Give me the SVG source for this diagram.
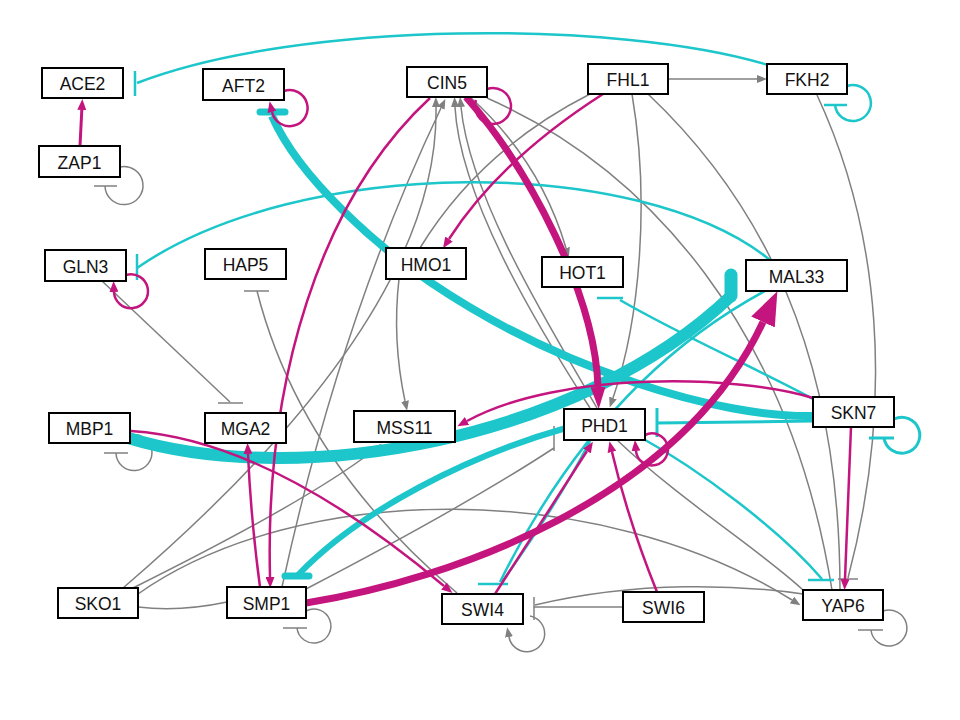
<svg xmlns="http://www.w3.org/2000/svg" width="960" height="720" viewBox="0 0 960 720">
<style>
rect{fill:#fff;stroke:#000;stroke-width:2}
text{font-family:"Liberation Sans",Arial,sans-serif;font-size:17.5px;fill:#111;text-anchor:middle}
.g{stroke:#808080;stroke-width:1.5;fill:none}
.m{stroke:#C4157F;stroke-width:2.5;fill:none}
.c{stroke:#1CC6CA;stroke-width:2.5;fill:none}
.tg{stroke:#808080;stroke-width:1.5}
.tc{stroke:#1CC6CA;stroke-width:2.5}
.rc{stroke:#1CC6CA;stroke-linecap:round}
</style>
<defs>
<marker id="aG" markerUnits="userSpaceOnUse" markerWidth="10" markerHeight="8" refX="0" refY="4" orient="auto"><path d="M0,0 L10,4 L0,8 z" fill="#808080"/></marker>
<marker id="aM" markerUnits="userSpaceOnUse" markerWidth="11" markerHeight="9" refX="0" refY="4.5" orient="auto"><path d="M0,0 L11,4.5 L0,9 z" fill="#C4157F"/></marker>
<marker id="aMt" markerUnits="userSpaceOnUse" markerWidth="22" markerHeight="15" refX="0" refY="7.5" orient="auto"><path d="M0,0 L22,7.5 L0,15 z" fill="#C4157F"/></marker>
<marker id="aMb" markerUnits="userSpaceOnUse" markerWidth="34" markerHeight="26" refX="0" refY="13" orient="auto"><path d="M0,0 L34,13 L0,26 z" fill="#C4157F"/></marker>
</defs>
<rect x="0" y="0" width="960" height="720" style="fill:#fff;stroke:none"/>
<g id="connectors">
<!-- gray -->
<path class="g" d="M668,79 L757,79" marker-end="url(#aG)"/>
<path class="g" d="M632,94 C650,200 640,320 613,398" marker-end="url(#aG)"/>
<path class="g" d="M590,94 Q480,150 420,248"/>
<path class="g" d="M648,94 C760,200 840,350 840,590"/>
<path class="g" d="M470,97 Q540,160 566,248" marker-end="url(#aG)"/>
<path class="g" d="M487,98 C650,170 790,330 832,590"/>
<path class="g" d="M590,408 C540,330 460,200 455,107" marker-end="url(#aG)"/>
<path class="g" d="M597,408 C552,330 470,200 461,107" marker-end="url(#aG)"/>
<path class="g" d="M123,588 Q440,316 436,107" marker-end="url(#aG)"/>
<path class="g" d="M282,587 Q340,320 441,108" marker-end="url(#aG)"/>
<path class="g" d="M399,279 Q392,340 405,401" marker-end="url(#aG)"/>
<path class="g" d="M133,588 Q310,500 374,450" marker-end="url(#aG)"/>
<path class="g" d="M138,607 Q180,612 227,602"/>
<path class="g" d="M138,594 C300,480 600,480 792,600" marker-end="url(#aG)"/>
<path class="g" d="M306,589 C400,540 490,490 554,448"/>
<line class="tg" x1="554" y1="426" x2="554" y2="451"/>
<path class="g" d="M102,281 L230,402"/>
<line class="tg" x1="218" y1="403" x2="243" y2="403"/>
<path class="g" d="M457,593 Q300,460 257,291"/>
<line class="tg" x1="244" y1="291" x2="269" y2="291"/>
<path class="g" d="M623,607 L534,607"/>
<path class="g" d="M803,594 C740,585 640,580 535,605"/>
<line class="tg" x1="534" y1="597" x2="534" y2="620"/>
<path class="g" d="M817,95 C880,230 895,400 848,578"/>
<line class="tg" x1="838" y1="579" x2="858" y2="579"/>
<path class="g" d="M617,440 C680,500 760,550 803,590"/>
<path class="g" d="M120,167 A19,19 0 1 1 105,186"/>
<line class="tg" x1="94" y1="186" x2="117" y2="186"/>
<path class="g" d="M130,435 A18,18 0 1 1 116,453"/>
<line class="tg" x1="104" y1="453" x2="128" y2="453"/>
<path class="g" d="M306,611 A17,17 0 1 1 297,628"/>
<line class="tg" x1="283" y1="628" x2="307" y2="628"/>
<path class="g" d="M883,611 A18,18 0 1 1 871,630"/>
<line class="tg" x1="858" y1="630" x2="883" y2="630"/>
<path class="g" d="M530,616 A18,18 0 1 1 509,637" marker-end="url(#aG)"/>
<!-- cyan -->
<path class="c" d="M768,65 C620,20 300,20 137,83"/>
<line class="tc" x1="135" y1="71" x2="135" y2="96"/>
<path class="c" d="M847,86 A18,18 0 1 1 835,105"/>
<line class="tc" x1="824" y1="105" x2="847" y2="105"/>
<path class="c" d="M770,260 C640,155 300,155 137,268"/>
<line class="tc" x1="137" y1="254" x2="137" y2="280"/>
<path class="c" d="M815,400 C760,370 680,335 620,300"/>
<line class="tc" x1="597" y1="298" x2="623" y2="298"/>
<path class="c" d="M765,291 Q600,380 500,582"/>
<path class="c" d="M590,441 Q560,500 502,582"/>
<line class="tc" x1="478" y1="584" x2="508" y2="584"/>
<path class="c" d="M640,437 C700,470 780,530 822,579"/>
<line class="tc" x1="808" y1="580" x2="834" y2="580"/>
<path class="c" style="stroke-width:3" d="M813,421 L657,423"/>
<line class="tc" style="stroke-width:3" x1="657" y1="408" x2="657" y2="437"/>
<path class="c" style="stroke-width:3" d="M894,419 A18,18 0 1 1 884,438"/>
<line class="tc" style="stroke-width:3" x1="869" y1="438" x2="894" y2="438"/>
<path class="c" style="stroke-width:8" d="M813,416 C720,418 560,370 430,282 C380,248 300,180 272,116"/>
<line class="rc" style="stroke-width:7" x1="260" y1="112" x2="285" y2="112"/>
<path class="c" style="stroke-width:6" d="M566,428 C470,455 360,510 298,575"/>
<line class="rc" style="stroke-width:7" x1="285" y1="576" x2="309" y2="576"/>
<path class="c" style="stroke-width:12" d="M128,438 C300,490 580,440 731,296"/>
<line class="rc" style="stroke-width:13" x1="731" y1="275" x2="731" y2="296"/>
<!-- magenta -->
<path class="m" style="stroke-width:3" d="M80,146 L81.8,110" marker-end="url(#aM)"/>
<path class="m" d="M284,91 A18,18 0 1 1 272,112" marker-end="url(#aM)"/>
<path class="m" d="M487,89 A18,18 0 1 1 476,100"/>
<path class="m" d="M126,275 A17,17 0 1 1 114,292" marker-end="url(#aM)"/>
<path class="m" d="M645,435 A16,16 0 1 1 636,451" marker-end="url(#aM)"/>
<path class="m" d="M430,98 C320,200 265,380 270,577" marker-end="url(#aM)"/>
<path class="m" d="M260,587 Q251,520 248,454" marker-end="url(#aM)"/>
<path class="m" d="M603,94 Q500,160 449,239" marker-end="url(#aM)"/>
<path class="m" d="M131,431 Q270,440 444,586" marker-end="url(#aM)"/>
<path class="m" d="M813,398 C740,375 560,370 467,421" marker-end="url(#aM)"/>
<path class="m" d="M851,427 L845,579" marker-end="url(#aM)"/>
<path class="m" d="M495,594 L587,451" marker-end="url(#aM)"/>
<path class="m" d="M657,592 Q628,520 612,452" marker-end="url(#aM)"/>
<path class="m" style="stroke-width:7" d="M466,97 C530,170 595,295 598,387" marker-end="url(#aMt)"/>
<path class="m" style="stroke-width:7" d="M306,603 C450,580 680,500 763,322" marker-end="url(#aMb)"/>
</g>
<g id="ACE2"><rect x="42" y="68" width="81" height="30"/><text x="82.5" y="90">ACE2</text></g>
<g id="ZAP1"><rect x="39" y="146" width="81" height="31"/><text x="79.5" y="168.5">ZAP1</text></g>
<g id="AFT2"><rect x="203" y="69" width="81" height="31"/><text x="243.5" y="91.5">AFT2</text></g>
<g id="CIN5"><rect x="407" y="67" width="80" height="30"/><text x="447" y="89">CIN5</text></g>
<g id="FHL1"><rect x="588" y="64" width="80" height="30"/><text x="628" y="86">FHL1</text></g>
<g id="FKH2"><rect x="767" y="64" width="80" height="30"/><text x="807" y="86">FKH2</text></g>
<g id="GLN3"><rect x="45" y="250" width="81" height="31"/><text x="85.5" y="272.5">GLN3</text></g>
<g id="HAP5"><rect x="205" y="249" width="81" height="30"/><text x="245.5" y="271">HAP5</text></g>
<g id="HMO1"><rect x="386" y="248" width="80" height="31"/><text x="426" y="270.5">HMO1</text></g>
<g id="HOT1"><rect x="542" y="257" width="81" height="30"/><text x="582.5" y="279">HOT1</text></g>
<g id="MAL33"><rect x="746" y="260" width="101" height="31"/><text x="796.5" y="282.5">MAL33</text></g>
<g id="MBP1"><rect x="49" y="413" width="81" height="30"/><text x="89.5" y="435">MBP1</text></g>
<g id="MGA2"><rect x="205" y="413" width="81" height="30"/><text x="245.5" y="435">MGA2</text></g>
<g id="MSS11"><rect x="354" y="411" width="101" height="31"/><text x="404.5" y="433.5">MSS11</text></g>
<g id="PHD1"><rect x="564" y="409" width="81" height="31"/><text x="604.5" y="431.5">PHD1</text></g>
<g id="SKN7"><rect x="813" y="397" width="81" height="30"/><text x="853.5" y="419">SKN7</text></g>
<g id="SKO1"><rect x="58" y="588" width="80" height="30"/><text x="98" y="610">SKO1</text></g>
<g id="SMP1"><rect x="227" y="587" width="79" height="31"/><text x="266.5" y="609.5">SMP1</text></g>
<g id="SWI4"><rect x="442" y="594" width="81" height="30"/><text x="482.5" y="616">SWI4</text></g>
<g id="SWI6"><rect x="623" y="592" width="81" height="30"/><text x="663.5" y="614">SWI6</text></g>
<g id="YAP6"><rect x="803" y="590" width="80" height="30"/><text x="843" y="612">YAP6</text></g>
</svg>
